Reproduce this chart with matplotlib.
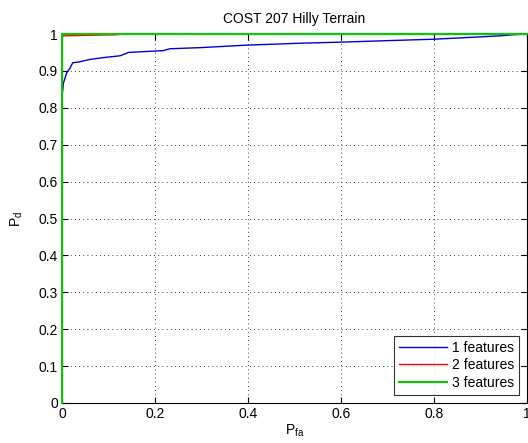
import matplotlib
matplotlib.use("Agg")
import matplotlib.pyplot as plt

plt.rcParams['font.family'] = ['Liberation Sans', 'DejaVu Sans']

# Data
pfa1 = [0.0, 0.0, 0.003, 0.01, 0.017, 0.023, 0.035, 0.06, 0.089, 0.125, 0.143,
        0.218, 0.232, 0.297, 0.40, 0.469, 0.512, 0.601, 0.70, 0.802, 0.834,
        0.942, 0.97, 1.0]
pd1 = [0.0, 0.83, 0.866, 0.895, 0.907, 0.922, 0.924, 0.931, 0.936, 0.941, 0.950,
       0.955, 0.960, 0.963, 0.970, 0.973, 0.975, 0.978, 0.982, 0.986, 0.988,
       0.995, 0.998, 1.0]
pfa2 = [0.0, 0.0, 0.003, 0.118, 0.125, 1.0]
pd2 = [0.0, 0.993, 0.995, 0.998, 1.0, 1.0]
pfa3 = [0.0, 0.0, 1.0]
pd3 = [0.0, 1.0, 1.0]
labels = ['1 features', '2 features', '3 features']
xticks = [0, 0.2, 0.4, 0.6, 0.8, 1]
yticks = [0, 0.1, 0.2, 0.3, 0.4, 0.5, 0.6, 0.7, 0.8, 0.9, 1]

fig = plt.figure(figsize=(5.28, 4.43), dpi=100)
ax = fig.add_axes([62/528, 40/443, 465/528, 369/443])

ax.plot(pfa1, pd1, color='#0000cc', lw=1.0, label=labels[0], zorder=3, clip_on=False)
ax.plot(pfa2, pd2, color='#ff0000', lw=1.0, label=labels[1], zorder=3, clip_on=False)
ax.plot(pfa3, pd3, color='#00cc00', lw=1.5, label=labels[2], zorder=3, clip_on=False)

ax.set_xlim(0, 1)
ax.set_ylim(0, 1)
ax.set_xticks(xticks)
ax.set_xticklabels(['0', '0.2', '0.4', '0.6', '0.8', '1'])
ax.set_yticks(yticks)
ax.set_yticklabels(['0', '0.1', '0.2', '0.3', '0.4', '0.5', '0.6', '0.7', '0.8', '0.9', '1'])
ax.grid(True, linestyle=(0, (1, 4)), color='k', linewidth=0.6)
ax.tick_params(direction='in', top=True, right=True, labelsize=10, length=4, pad=3)
for s in ax.spines.values():
    s.set_linewidth(0.8)

ax.set_title('COST 207 Hilly Terrain', fontsize=10, pad=8)
ax.set_xlabel(r'P$_{\mathregular{fa}}$', fontsize=10, labelpad=1)
ax.set_ylabel(r'P$_{\mathregular{d}}$', fontsize=10, labelpad=10)

leg = ax.legend(loc='lower right', fontsize=10, frameon=True, fancybox=False,
                edgecolor='k', handlelength=3.5, borderpad=0.35, labelspacing=0.25,
                handletextpad=0.3, borderaxespad=0.6)
leg.get_frame().set_linewidth(0.8)
leg.set_zorder(5)

fig.savefig('out.png', dpi=100)
